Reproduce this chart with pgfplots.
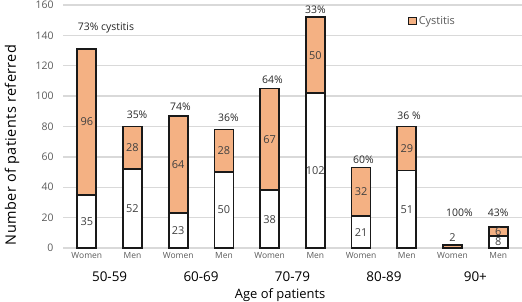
\documentclass[border=0pt]{standalone}
\usepackage{pgfplots}
\pgfplotsset{compat=1.18}
\usepackage{pgfplotstable}
\usepackage{fontspec}
\setmainfont{Open Sans}
\newfontfamily\widesans[LetterSpace=3]{Open Sans}
\definecolor{cyst}{HTML}{F4B183}
\definecolor{gridgray}{HTML}{D9D9D9}
\definecolor{ticktext}{HTML}{595959}
\definecolor{valtext}{HTML}{404040}
\definecolor{pcttext}{HTML}{262626}

% patients referred, by age band and sex: without cystitis / with cystitis
% olab/clab: values printed inside the segments
\pgfplotstableread{
x other cyst olab clab
0 35 96 35 96
1 52 28 52 28
2 23 64 23 64
3 50 28 50 28
4 38 67 38 67
5 102 50 102 50
6 21 32 21 32
7 51 29 51 29
8 0 2 {} {}
9 8 6 8 6
}\patients

\tikzset{
  pct/.style={font=\fontsize{10.5}{12}\selectfont, text=pcttext},
  val/.style={font=\fontsize{11}{13}\selectfont, text=valtext},
  band/.style={font=\fontsize{13.5}{15}\selectfont, text=black, yshift=-29bp},
}

\begin{document}
\begin{tikzpicture}
\useasboundingbox (0,0) rectangle (522bp,302bp);
\begin{axis}[
  at={(63bp,54bp)}, anchor=south west,
  scale only axis, width=459bp, height=243bp,
  ybar stacked, bar width=19bp,
  xmin=-0.52, xmax=9.52, ymin=0, ymax=160,
  ytick={0,20,...,160},
  xtick=data,
  xticklabels={Women,Men,Women,Men,Women,Men,Women,Men,Women,Men},
  x tick label style={font=\fontsize{8.5}{9}\selectfont, text=ticktext, yshift=-1bp},
  y tick label style={font=\fontsize{10.5}{12}\selectfont, text=ticktext, xshift=-6bp},
  /pgf/number format/assume math mode=true,
  axis line style={draw=none},
  major tick length=0pt,
  ymajorgrids, grid style={gridgray, line width=1.3bp},
  clip=false,
  ylabel={Number of patients referred},
  every axis y label/.style={at={(axis description cs:-0.111,0.424)}, rotate=90, anchor=center,
    font=\widesans\fontsize{14.5}{17}\selectfont, text=black},
  legend style={at={(0.752,0.934)}, anchor=west, draw=none, fill=none,
    font=\fontsize{11}{13}\selectfont, text=ticktext, inner sep=0pt},
  legend image code/.code={\draw[#1, line width=0.9bp] (0bp,-3.5bp) rectangle (7.5bp,3.5bp);},
  nodes near coords,
  point meta=explicit symbolic,
  every node near coord/.append style={font=\fontsize{11}{13}\selectfont, text=valtext},
]
\addplot[fill=white, draw=black!90, line width=1.6bp]
  table[x=x, y=other, meta=olab] {\patients};
\addplot[fill=cyst, draw=black!90, line width=1.6bp]
  table[x=x, y=cyst, meta=clab] {\patients};
\legend{,Cystitis}

% the lone 90+ women bar is too thin to hold its value
\node[val] at (axis cs:8,7) {2};

% share with cystitis above each bar
\node[pct] at (axis cs:0.42,145) {73\% cystitis};
\node[pct] at (axis cs:1.1,87.5) {35\%};
\node[pct] at (axis cs:2.05,92.8) {74\%};
\node[pct] at (axis cs:3.1,86) {36\%};
\node[pct] at (axis cs:4.06,111) {64\%};
\node[pct] at (axis cs:5,157) {33\%};
\node[pct] at (axis cs:6.05,58) {60\%};
\node[pct] at (axis cs:7.05,87) {36 \%};
\node[pct] at (axis cs:8.15,23) {100\%};
\node[pct] at (axis cs:9,23) {43\%};

% age bands
\node[band] at (axis cs:0.5,0) {50-59};
\node[band] at (axis cs:2.5,0) {60-69};
\node[band] at (axis cs:4.5,0) {70-79};
\node[band] at (axis cs:6.5,0) {80-89};
\node[band] at (axis cs:8.5,0) {90+};
\node[font=\fontsize{13}{15}\selectfont, text=black, yshift=-47bp] at (axis cs:4.23,0) {Age of patients};
\end{axis}
\end{tikzpicture}
\end{document}
